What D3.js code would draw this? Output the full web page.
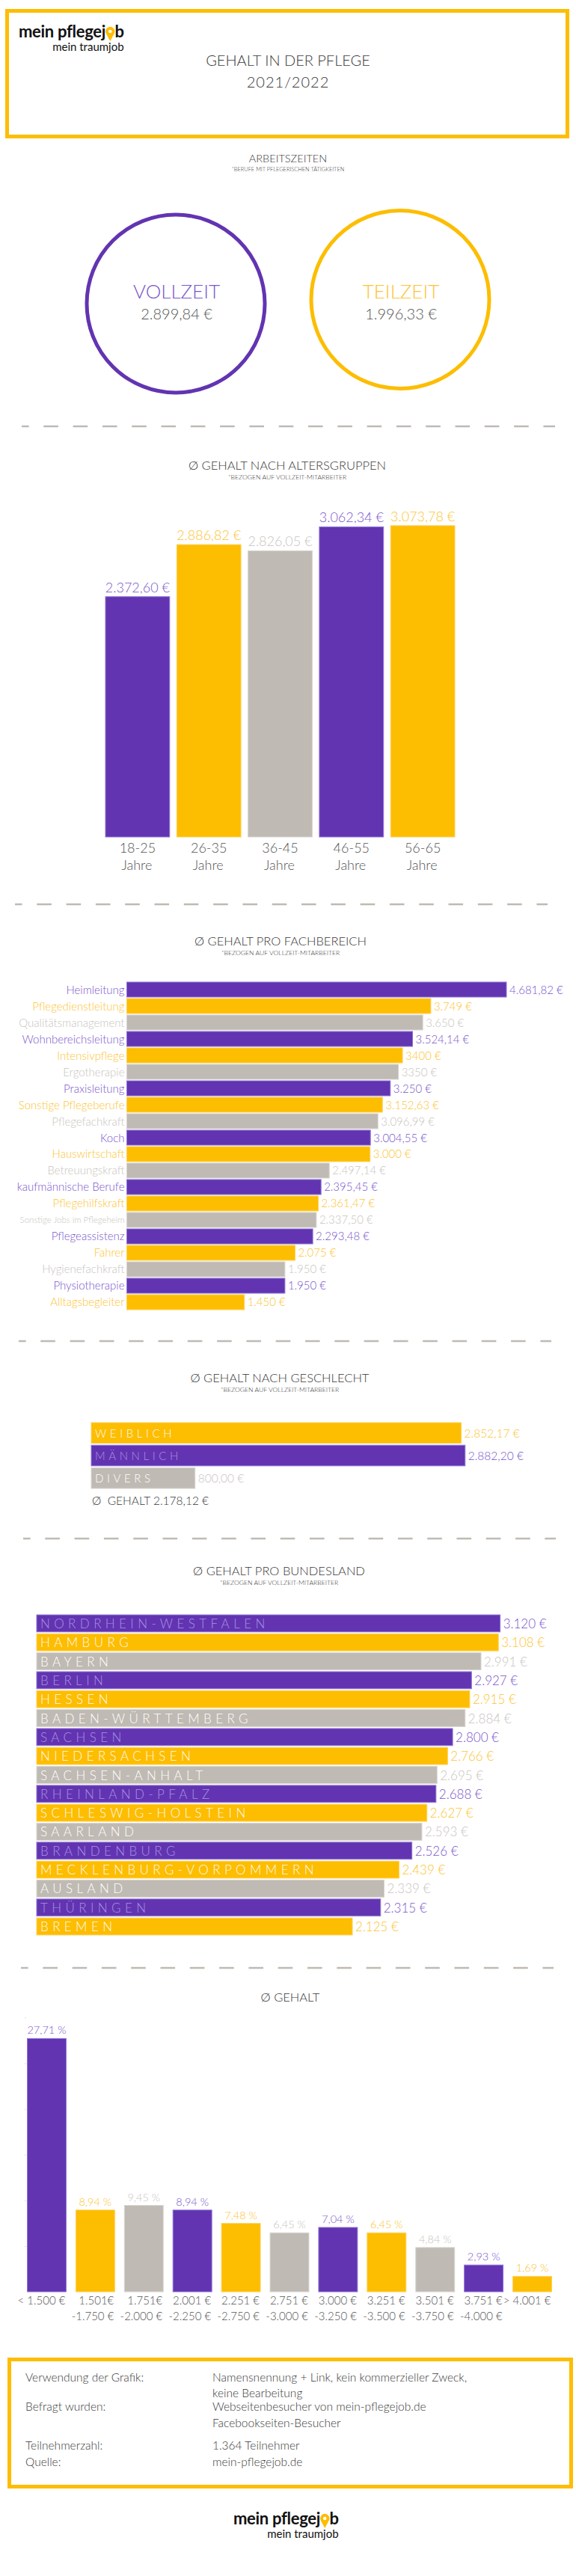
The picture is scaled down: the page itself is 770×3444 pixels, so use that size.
<!DOCTYPE html>
<html><head><meta charset="utf-8">
<script src="https://cdn.jsdelivr.net/npm/d3@7"></script>
<style>
html,body{margin:0;padding:0;background:#fff;}
svg{display:block;}
text{font-family:Lato,"Open Sans",sans-serif;font-weight:300;}
</style></head><body>
<svg id="chart" width="770" height="3444"></svg>
<script>
// ---------------- DATA ----------------
const workLabels = ["VOLLZEIT", "TEILZEIT"];
const workValues = [2899.84, 1996.33];

const ageGroups = ["18-25", "26-35", "36-45", "46-55", "56-65"];
const ageValues = [2372.60, 2886.82, 2826.05, 3062.34, 3073.78];

const fachCategories = ["Heimleitung","Pflegedienstleitung","Qualitätsmanagement","Wohnbereichsleitung","Intensivpflege","Ergotherapie","Praxisleitung","Sonstige Pflegeberufe","Pflegefachkraft","Koch","Hauswirtschaft","Betreuungskraft","kaufmännische Berufe","Pflegehilfskraft","Sonstige Jobs im Pflegeheim","Pflegeassistenz","Fahrer","Hygienefachkraft","Physiotherapie","Alltagsbegleiter"];
const fachValues = [4681.82,3749,3650,3524.14,3400,3350,3250,3152.63,3096.99,3004.55,3000,2497.14,2395.45,2361.47,2337.50,2293.48,2075,1950,1950,1450];
const fachValueLabels = ["4.681,82 €","3.749 €","3.650 €","3.524,14 €","3400 €","3350 €","3.250 €","3.152,63 €","3.096,99 €","3.004,55 €","3.000 €","2.497,14 €","2.395,45 €","2.361,47 €","2.337,50 €","2.293,48 €","2.075 €","1.950 €","1.950 €","1.450 €"];

const genders = ["WEIBLICH", "MÄNNLICH", "DIVERS"];
const genderValues = [2852.17, 2882.20, 800.00];
const genderAverage = 2178.12;

const states = ["NORDRHEIN-WESTFALEN","HAMBURG","BAYERN","BERLIN","HESSEN","BADEN-WÜRTTEMBERG","SACHSEN","NIEDERSACHSEN","SACHSEN-ANHALT","RHEINLAND-PFALZ","SCHLESWIG-HOLSTEIN","SAARLAND","BRANDENBURG","MECKLENBURG-VORPOMMERN","AUSLAND","THÜRINGEN","BREMEN"];
const stateValues = [3120,3108,2991,2927,2915,2884,2800,2766,2695,2688,2627,2593,2526,2439,2339,2315,2125];

const salaryRangeFrom = ["< 1.500 €","1.501€","1.751€","2.001 €","2.251 €","2.751 €","3.000 €","3.251 €","3.501 €","3.751 €","> 4.001 €"];
const salaryRangeTo = ["","-1.750 €","-2.000 €","-2.250 €","-2.750 €","-3.000 €","-3.250 €","-3.500 €","-3.750 €","-4.000 €",""];
const salaryShares = [27.71,8.94,9.45,8.94,7.48,6.45,7.04,6.45,4.84,2.93,1.69];
const shareTicks = [5,10,15,20,25,30];

const footerKeys = ["Verwendung der Grafik:", "", "Befragt wurden:", "", "Teilnehmerzahl:", "Quelle:"];
const footerValues = ["Namensnennung + Link, kein kommerzieller Zweck,", "keine Bearbeitung", "Webseitenbesucher von mein-pflegejob.de", "Facebookseiten-Besucher", "1.364 Teilnehmer", "mein-pflegejob.de"];

// ---------------- STYLE ----------------
const purple = "#6234b1", yellow = "#fdbd00", gray = "#bfbab3";
const barPal = [purple, yellow, gray];
const edgePal = ["#8f74d6", "#fed25a", "#d9d5d0"];
const textPal = ["#7a56cc", "#fdc432", "#c9c5c0"];
const innerPal = ["#a892e2", "#fffaf0", "#ffffff"];
const dark = "#3a3a3a";

const de = d3.formatLocale({decimal: ",", thousands: ".", grouping: [3], currency: ["", " €"]});
const eur2 = v => de.format(",.2f")(v) + " €";
const eur0 = v => de.format(",.0f")(v) + " €";
const pct = v => de.format(".2f")(v) + " %";

const svg = d3.select("#chart");
svg.append("rect").attr("width", 770).attr("height", 3444).attr("fill", "#fff");

function txt(x, y, s, size, color, anchor = "middle") {
  return svg.append("text").attr("x", x).attr("y", y).attr("font-size", size)
    .attr("fill", color).attr("text-anchor", anchor).text(s);
}

function logo(xLeft, base) {
  const g = svg.append("g");
  const t = g.append("text").attr("x", xLeft).attr("y", base)
    .attr("font-size", 22).attr("fill", "#111")
    .style("font-weight", 700).attr("letter-spacing", -0.3);
  t.append("tspan").text("mein pflegej");
  t.append("tspan").attr("fill", "transparent").text("o");
  t.append("tspan").text("b");
  const w = t.node().getComputedTextLength();
  const ext = t.node().getExtentOfChar(12);
  const cx = ext.x + ext.width / 2, r = 6.2, cy = base - 8;
  g.append("path")
    .attr("d", `M${cx},${base + 5} L${cx - r * 0.87},${cy + r * 0.5} A${r},${r} 0 1 1 ${cx + r * 0.87},${cy + r * 0.5} Z`)
    .attr("fill", yellow);
  g.append("circle").attr("cx", cx).attr("cy", cy).attr("r", 2.3).attr("fill", "#fff");
  g.append("text").attr("x", xLeft + w).attr("y", base + 18).attr("text-anchor", "end")
    .attr("font-size", 15).style("font-weight", 400).attr("fill", "#111").text("mein traumjob");
}

function dashLine(y, x1, x2) {
  svg.append("line").attr("x1", x1).attr("x2", x2).attr("y1", y).attr("y2", y)
    .attr("stroke", gray).attr("stroke-width", 2.5)
    .attr("stroke-dasharray", "19.6 19.7").attr("stroke-dashoffset", 10);
}

function title(cx, y, main, sub) {
  txt(cx, y, main, 16.5, dark);
  if (sub) txt(cx, y + 12.5, sub, 8.6, dark);
}

// ---------------- HEADER ----------------
svg.append("rect").attr("x", 9.5).attr("y", 14.5).attr("width", 749).attr("height", 168)
  .attr("fill", "none").attr("stroke", yellow).attr("stroke-width", 5);
logo(25, 50);
txt(385, 88, "GEHALT IN DER PFLEGE", 20, dark);
txt(385, 117, "2021/2022", 20, dark).attr("letter-spacing", 1);

// ---------------- ARBEITSZEITEN ----------------
txt(385, 217, "ARBEITSZEITEN", 14.5, dark);
txt(385, 229, "*BERUFE MIT PFLEGERISCHEN TÄTIGKEITEN", 7.4, dark);
const circleX = d3.scalePoint().domain(workLabels).range([235, 535]);
const circleY = [406, 400.5];
const workCol = [purple, yellow];
const workTxt = [textPal[0], textPal[1]];
workLabels.forEach((lab, i) => {
  svg.append("circle").attr("cx", circleX(lab)).attr("cy", circleY[i]).attr("r", 119)
    .attr("fill", "none").attr("stroke", workCol[i]).attr("stroke-width", 5);
  txt(circleX(lab) + 1, 399, lab, 26, workTxt[i]);
  txt(circleX(lab) + 1, 427, eur2(workValues[i]), 20, "#555");
});
dashLine(570, 29, 742);

// ---------------- ALTERSGRUPPEN ----------------
title(384, 628, "Ø GEHALT NACH ALTERSGRUPPEN", "*BEZOGEN AUF VOLLZEIT-MITARBEITER");
const xAge = d3.scaleBand().domain(ageGroups).range([141, 608]).paddingInner(0.1).paddingOuter(0);
const yAge = d3.scaleLinear().domain([0, 3100]).range([1119, 1119 - 3100 * 0.1354]);
svg.append("g").selectAll("rect").data(ageGroups).join("rect")
  .attr("x", d => xAge(d)).attr("y", (d, i) => yAge(ageValues[i]))
  .attr("width", xAge.bandwidth()).attr("height", (d, i) => yAge(0) - yAge(ageValues[i]))
  .attr("fill", (d, i) => barPal[i % 3]).attr("stroke", (d, i) => edgePal[i % 3]).attr("stroke-width", 1);
svg.append("g").selectAll("text").data(ageGroups).join("text")
  .attr("x", d => xAge(d) + xAge.bandwidth() / 2).attr("y", (d, i) => yAge(ageValues[i]) - 6)
  .attr("text-anchor", "middle").attr("font-size", 18).attr("fill", (d, i) => textPal[i % 3])
  .text((d, i) => eur2(ageValues[i]));
const ageAxis = svg.append("g").attr("transform", `translate(0,${yAge(0)})`)
  .call(d3.axisBottom(xAge).tickSize(0).tickFormat(""));
ageAxis.select(".domain").remove();
ageAxis.selectAll(".tick").each(function (d) {
  const t = d3.select(this).append("text").attr("fill", "#555").attr("font-size", 18)
    .attr("text-anchor", "middle").style("font-family", "Lato,'Open Sans',sans-serif");
  t.append("tspan").attr("x", 0).attr("y", 21).text(d);
  t.append("tspan").attr("x", -1).attr("y", 44).text("Jahre");
});
dashLine(1209, 20, 732);

// ---------------- FACHBEREICH ----------------
title(375, 1264, "Ø GEHALT PRO FACHBEREICH", "*BEZOGEN AUF VOLLZEIT-MITARBEITER");
const xFach = d3.scaleLinear().domain([0, 5000]).range([169.5, 169.5 + 5000 * 0.1084]);
const yFach = d3.scaleBand().domain(fachCategories).range([1313, 1751]).paddingInner(0.09).paddingOuter(0);
const gF = svg.append("g");
gF.selectAll("rect").data(fachCategories).join("rect")
  .attr("x", xFach(0)).attr("y", d => yFach(d))
  .attr("width", (d, i) => xFach(fachValues[i]) - xFach(0)).attr("height", yFach.bandwidth())
  .attr("fill", (d, i) => barPal[i % 3]).attr("stroke", (d, i) => edgePal[i % 3]).attr("stroke-width", 1);
gF.selectAll("text.cat").data(fachCategories).join("text").attr("class", "cat")
  .attr("x", xFach(0) - 3).attr("y", d => yFach(d) + yFach.bandwidth() / 2 + 5.5)
  .attr("text-anchor", "end").attr("font-size", 15).attr("fill", (d, i) => textPal[i % 3])
  .text(d => d)
  .each(function () {
    const L = this.getComputedTextLength();
    if (L > 150) {
      d3.select(this).attr("font-size", 15 * 140 / L).attr("y", +d3.select(this).attr("y") - 1.5);
    }
  });
gF.selectAll("text.val").data(fachCategories).join("text").attr("class", "val")
  .attr("x", (d, i) => xFach(fachValues[i]) + 4).attr("y", d => yFach(d) + yFach.bandwidth() / 2 + 5.5)
  .attr("font-size", 15).attr("fill", (d, i) => textPal[i % 3])
  .text((d, i) => fachValueLabels[i]);
dashLine(1793, 25, 737);

// ---------------- GESCHLECHT ----------------
title(374, 1848, "Ø GEHALT NACH GESCHLECHT", "*BEZOGEN AUF VOLLZEIT-MITARBEITER");
const genderColorIdx = [1, 0, 2];
const xG = d3.scaleLinear().domain([0, 3000]).range([122, 122 + 3000 * 0.1734]);
const yG = d3.scaleBand().domain(genders).range([1902, 1990]).paddingInner(0.085).paddingOuter(0);
const gG = svg.append("g");
gG.selectAll("rect").data(genders).join("rect")
  .attr("x", xG(0)).attr("y", d => yG(d))
  .attr("width", (d, i) => xG(genderValues[i]) - xG(0)).attr("height", yG.bandwidth())
  .attr("fill", (d, i) => barPal[genderColorIdx[i]]).attr("stroke", (d, i) => edgePal[genderColorIdx[i]]).attr("stroke-width", 1);
gG.selectAll("text.in").data(genders).join("text").attr("class", "in")
  .attr("x", xG(0) + 5).attr("y", d => yG(d) + yG.bandwidth() / 2 + 6)
  .attr("font-size", 15).attr("letter-spacing", 4.6)
  .attr("fill", (d, i) => innerPal[genderColorIdx[i]]).text(d => d);
gG.selectAll("text.val").data(genders).join("text").attr("class", "val")
  .attr("x", (d, i) => xG(genderValues[i]) + 4).attr("y", d => yG(d) + yG.bandwidth() / 2 + 6)
  .attr("font-size", 15.5).attr("fill", (d, i) => textPal[genderColorIdx[i]])
  .text((d, i) => eur2(genderValues[i]));
txt(xG(0) + 1, 2012, "Ø  GEHALT " + eur2(genderAverage), 15.5, dark, "start").attr("xml:space", "preserve").style("white-space", "pre");
dashLine(2057, 31, 743);

// ---------------- BUNDESLAND ----------------
title(373, 2106, "Ø GEHALT PRO BUNDESLAND", "*BEZOGEN AUF VOLLZEIT-MITARBEITER");
const xS = d3.scaleLinear().domain([0, 3200]).range([49, 49 + 3200 * 0.1986]);
const yS = d3.scaleBand().domain(states).range([2159, 2587]).paddingInner(0.1).paddingOuter(0);
const gS = svg.append("g");
gS.selectAll("rect").data(states).join("rect")
  .attr("x", xS(0)).attr("y", d => yS(d))
  .attr("width", (d, i) => xS(stateValues[i]) - xS(0)).attr("height", yS.bandwidth())
  .attr("fill", (d, i) => barPal[i % 3]).attr("stroke", (d, i) => edgePal[i % 3]).attr("stroke-width", 1);
gS.selectAll("text.in").data(states).join("text").attr("class", "in")
  .attr("x", xS(0) + 5).attr("y", d => yS(d) + yS.bandwidth() / 2 + 6.5)
  .attr("font-size", 17).attr("letter-spacing", 5.4)
  .attr("fill", (d, i) => innerPal[i % 3]).text(d => d);
gS.selectAll("text.val").data(states).join("text").attr("class", "val")
  .attr("x", (d, i) => xS(stateValues[i]) + 4).attr("y", d => yS(d) + yS.bandwidth() / 2 + 6.5)
  .attr("font-size", 17).attr("fill", (d, i) => textPal[i % 3])
  .text((d, i) => eur0(stateValues[i]));
dashLine(2631, 28, 740);

// ---------------- GEHALT (Verteilung) ----------------
title(388, 2676, "Ø GEHALT", null);
const xH = d3.scaleBand().domain(salaryRangeFrom).range([30, 744]).paddingInner(0.2).paddingOuter(0.1);
const yH = d3.scaleLinear().domain([0, 30]).range([3064, 3064 - 30 * 12.22]);
const yAx = svg.append("g").attr("transform", "translate(35,0)")
  .call(d3.axisLeft(yH).tickValues(shareTicks).tickSize(2).tickFormat(""));
yAx.select(".domain").remove();
yAx.selectAll("line").attr("stroke", "#d8d8d8");
const gH = svg.append("g");
gH.selectAll("rect").data(salaryRangeFrom).join("rect")
  .attr("x", d => xH(d)).attr("y", (d, i) => yH(salaryShares[i]))
  .attr("width", xH.bandwidth()).attr("height", (d, i) => yH(0) - yH(salaryShares[i]))
  .attr("fill", (d, i) => barPal[i % 3]).attr("stroke", (d, i) => edgePal[i % 3]).attr("stroke-width", 1);
gH.selectAll("text.val").data(salaryRangeFrom).join("text").attr("class", "val")
  .attr("x", d => xH(d) + xH.bandwidth() / 2).attr("y", (d, i) => yH(salaryShares[i]) - 6)
  .attr("text-anchor", "middle").attr("font-size", 14.5).attr("fill", (d, i) => textPal[i % 3])
  .text((d, i) => pct(salaryShares[i]));
const xAx = svg.append("g").attr("transform", `translate(0,${yH(0)})`)
  .call(d3.axisBottom(xH).tickSize(0).tickFormat(""));
xAx.select(".domain").remove();
xAx.selectAll(".tick").each(function (d, i) {
  const t = d3.select(this).append("text").attr("fill", "#555").attr("font-size", 15)
    .attr("text-anchor", "end").style("font-family", "Lato,'Open Sans',sans-serif");
  const xr = xH.bandwidth() / 2 - 1;
  t.append("tspan").attr("x", xr).attr("y", 17).text(salaryRangeFrom[i]);
  if (salaryRangeTo[i]) t.append("tspan").attr("x", xr).attr("y", 38).text(salaryRangeTo[i]);
});

// ---------------- FOOTER ----------------
svg.append("rect").attr("x", 12.5).attr("y", 3154.5).attr("width", 751).attr("height", 170)
  .attr("fill", "none").attr("stroke", yellow).attr("stroke-width", 5);
const footerBase = [3184, 3205, 3223, 3245, 3275, 3297];
footerKeys.forEach((k, i) => {
  if (k) txt(34, footerBase[i], k, 15.5, dark, "start");
  txt(284, footerBase[i], footerValues[i], 15.5, dark, "start");
});
logo(312, 3375);
</script>
</body></html>
